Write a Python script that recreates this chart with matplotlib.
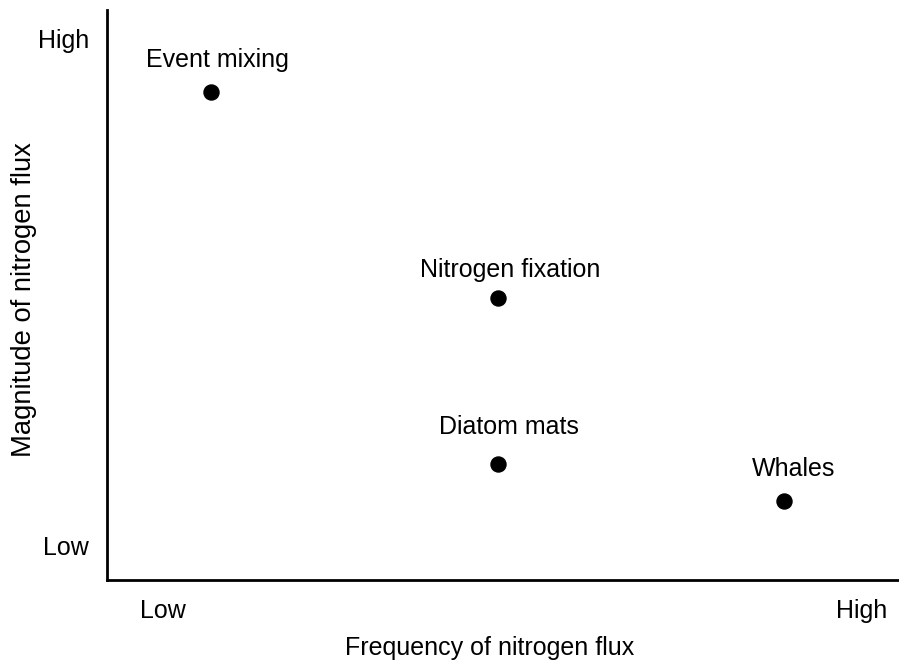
import matplotlib
matplotlib.use("Agg")
import matplotlib.pyplot as plt

# Data (Low = 1, High = 10 on both axes)
labels = ["Event mixing", "Nitrogen fixation", "Diatom mats", "Whales"]
frequency = [1.62, 5.31, 5.31, 9.0]
magnitude = [9.04, 5.38, 2.44, 1.78]
tick_positions = [1, 10]
tick_labels = ["Low", "High"]

# label offsets (points) relative to each marker
offsets = [(4.7, 18), (9.4, 15.1), (7.9, 21.6), (6.5, 18)]

plt.rcParams['font.family'] = ['Liberation Sans', 'DejaVu Sans']

W, H = 899, 662
fig = plt.figure(figsize=(W / 100, H / 100), dpi=100)
ax = fig.add_axes([107 / W, 1 - 580 / H, 1 - 107 / W, (580 - 10) / H])

ax.scatter(frequency, magnitude, s=117, color='black', zorder=3)
for x, y, lab, off in zip(frequency, magnitude, labels, offsets):
    ax.annotate(lab, (x, y), xytext=off, textcoords='offset points',
                ha='center', va='baseline', fontsize=18)

ax.set_xlim(0.28, 10.48)
ax.set_ylim(0.38, 10.5)
ax.set_xticks(tick_positions)
ax.set_xticklabels(tick_labels)
ax.set_yticks(tick_positions)
ax.set_yticklabels(tick_labels)
ax.tick_params(axis='x', length=0, pad=14, labelsize=18)
ax.tick_params(axis='y', length=0, pad=13, labelsize=18)

for side in ['top', 'right']:
    ax.spines[side].set_visible(False)
for side in ['left', 'bottom']:
    ax.spines[side].set_linewidth(2)
    ax.spines[side].set_color('black')

fig.text(490 / W, 1 - 648 / H, "Frequency of nitrogen flux", ha='center', va='center', fontsize=18)
fig.text(24 / W, 1 - 300 / H, "Magnitude of nitrogen flux", ha='center', va='center',
         rotation=90, fontsize=19.7)

fig.savefig("out.png", dpi=100)
